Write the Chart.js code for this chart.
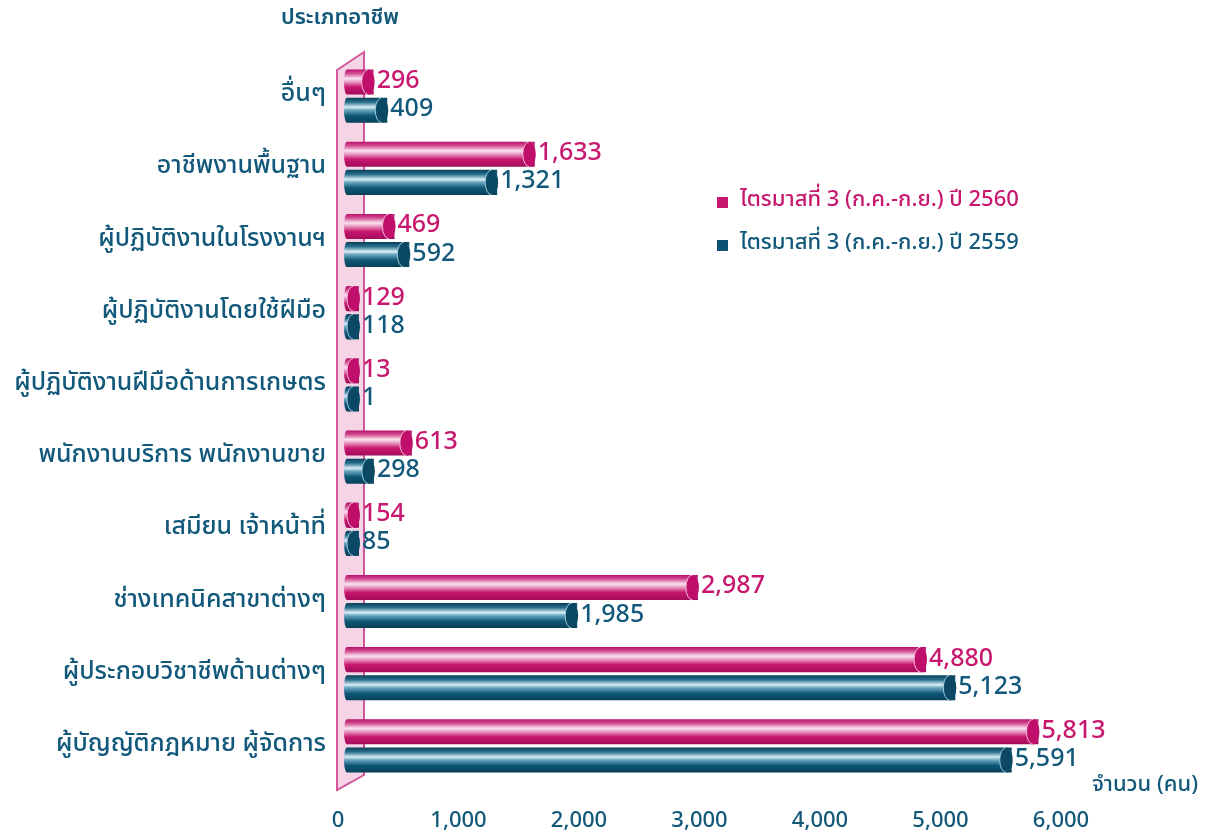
<!DOCTYPE html>
<html><head><meta charset="utf-8">
<script src="https://cdn.jsdelivr.net/npm/chart.js@4.4.1/dist/chart.umd.min.js"></script>
<style>html,body{margin:0;padding:0;background:#fff;}#wrap{width:1210px;height:839px;position:relative;}</style>
</head><body><div id="wrap"><canvas id="c" width="1210" height="839"></canvas></div>
<script>
const categories = [
  'อื่นๆ',
  'อาชีพงานพื้นฐาน',
  'ผู้ปฏิบัติงานในโรงงานฯ',
  'ผู้ปฏิบัติงานโดยใช้ฝีมือ',
  'ผู้ปฏิบัติงานฝีมือด้านการเกษตร',
  'พนักงานบริการ พนักงานขาย',
  'เสมียน เจ้าหน้าที่',
  'ช่างเทคนิคสาขาต่างๆ',
  'ผู้ประกอบวิชาชีพด้านต่างๆ',
  'ผู้บัญญัติกฎหมาย ผู้จัดการ'
];
const series2560 = [296, 1633, 469, 129, 13, 613, 154, 2987, 4880, 5813];
const series2559 = [409, 1321, 592, 118, 1, 298, 85, 1985, 5123, 5591];
const seriesLabels = ['ไตรมาสที่ 3 (ก.ค.-ก.ย.) ปี 2560', 'ไตรมาสที่ 3 (ก.ค.-ก.ย.) ปี 2559'];
const xTicks = [0, 1000, 2000, 3000, 4000, 5000, 6000];
const yAxisTitle = 'ประเภทอาชีพ';
const xAxisTitle = 'จำนวน (คน)';

const FONT = '"Noto Sans Thai", "Noto Sans Thai UI", Loma, Garuda, "Tlwg Typo", Kinnari, "DejaVu Sans", sans-serif';
const TEAL = '#11587a';
const PINK = '#c8176f';
const styles = [
  {stops: [[0,'#b8106a'],[0.16,'#d24d92'],[0.36,'#fbe4ef'],[0.48,'#eaa2c6'],[0.7,'#c8176f'],[1,'#a20c5b']], cap: '#bf0f6b', rim: '#f5b9d6', text: PINK},
  {stops: [[0,'#073f58'],[0.18,'#2a6f8d'],[0.38,'#d9eef5'],[0.5,'#6aa5be'],[0.72,'#0f5877'],[1,'#083f58']], cap: '#0a4864', rim: '#9ccbdc', text: TEAL}
];
const BAR_INSET = 9;

function makeGrad(ctx, di, top, h) {
  const g = ctx.createLinearGradient(0, top, 0, top + h);
  styles[di].stops.forEach(s => g.addColorStop(s[0], s[1]));
  return g;
}

const cylinderPlugin = {
  id: 'cyl',
  beforeDatasetsDraw(chart) {
    const ctx = chart.ctx;
    const xs = chart.scales.x, ca = chart.chartArea;
    const x0 = xs.getPixelForValue(0) - 1;
    const w = 27;
    ctx.save();
    ctx.beginPath();
    ctx.moveTo(x0, ca.top + 10);
    ctx.lineTo(x0 + w, ca.top - 8);
    ctx.lineTo(x0 + w, ca.bottom - 7);
    ctx.lineTo(x0, ca.bottom + 8);
    ctx.closePath();
    ctx.fillStyle = '#f5d5e5';
    ctx.fill();
    ctx.strokeStyle = '#d2579a';
    ctx.lineWidth = 2;
    ctx.stroke();
    ctx.restore();
    chart.data.datasets.forEach((ds, di) => {
      const meta = chart.getDatasetMeta(di);
      meta.data.forEach(el => {
        el.options.backgroundColor = makeGrad(ctx, di, el.y - el.height / 2, el.height);
      });
    });
  },
  beforeDatasetDraw(chart) {
    const ctx = chart.ctx;
    const x0 = chart.scales.x.getPixelForValue(0) + BAR_INSET;
    ctx.save();
    ctx.beginPath();
    ctx.rect(x0, 0, chart.width - x0, chart.height);
    ctx.clip();
  },
  afterDatasetDraw(chart) {
    chart.ctx.restore();
  },
  afterDatasetsDraw(chart) {
    const ctx = chart.ctx;
    chart.data.datasets.forEach((ds, di) => {
      const meta = chart.getDatasetMeta(di);
      meta.data.forEach((el, i) => {
        const h = el.height;
        const top = el.y - h / 2;
        const start = el.base + BAR_INSET;
        const minEnd = el.base + 21;
        const end = Math.max(el.x, minEnd);
        ctx.save();
        const g = makeGrad(ctx, di, top, h);
        ctx.fillStyle = g;
        if (el.x < minEnd) ctx.fillRect(start, top, end - start, h);
        // left rounded end
        ctx.beginPath();
        ctx.ellipse(start, el.y, 3, h / 2, 0, Math.PI * 0.5, Math.PI * 1.5);
        ctx.fill();
        // right cap
        const rx = 6.5;
        ctx.beginPath();
        ctx.ellipse(end - rx + 1, el.y, rx, h / 2, 0, 0, Math.PI * 2);
        ctx.fillStyle = styles[di].cap;
        ctx.fill();
        ctx.beginPath();
        ctx.ellipse(end - rx + 1, el.y, rx, h / 2, 0, Math.PI * 0.5, Math.PI * 1.5);
        ctx.strokeStyle = styles[di].rim;
        ctx.lineWidth = 1;
        ctx.stroke();
        // value label
        ctx.fillStyle = styles[di].text;
        ctx.font = '500 25px ' + FONT;
        ctx.textAlign = 'left';
        ctx.textBaseline = 'middle';
        ctx.fillText(ds.data[i].toLocaleString('en-US'), end + 3, el.y + 1);
        ctx.restore();
      });
    });
  },
  afterDraw(chart) {
    const ctx = chart.ctx;
    const ca = chart.chartArea;
    ctx.save();
    ctx.fillStyle = TEAL;
    ctx.font = '600 22px ' + FONT;
    ctx.textAlign = 'center';
    ctx.textBaseline = 'middle';
    ctx.fillText(yAxisTitle, ca.left + 2, 20);
    ctx.font = '500 22px ' + FONT;
    ctx.fillText(xAxisTitle, 1145, ca.bottom + 5);
    ctx.textAlign = 'left';
    ctx.font = '500 22px ' + FONT;
    chart.data.datasets.forEach((ds, di) => {
      const y = 202 + di * 43;
      ctx.fillStyle = di === 0 ? PINK : '#0c5275';
      ctx.fillRect(717, y - 5, 11, 11);
      ctx.fillStyle = styles[di].text;
      ctx.fillText(ds.label, 740, y);
    });
    ctx.restore();
  }
};

new Chart(document.getElementById('c'), {
  type: 'bar',
  data: {
    labels: categories,
    datasets: [
      {label: seriesLabels[0], data: series2560, backgroundColor: () => PINK, borderWidth: 0,
       categoryPercentage: 0.78, barPercentage: 0.89},
      {label: seriesLabels[1], data: series2559, backgroundColor: () => TEAL, borderWidth: 0,
       categoryPercentage: 0.78, barPercentage: 0.89}
    ]
  },
  options: {
    indexAxis: 'y',
    responsive: false,
    animation: false,
    layout: {padding: {top: 60, right: 149, bottom: 0, left: 0}},
    plugins: {legend: {display: false}, tooltip: {enabled: false}},
    scales: {
      x: {
        min: 0, max: 6000,
        afterFit(s) { s.height = 57; },
        afterBuildTicks(s) { s.ticks = xTicks.map(v => ({value: v})); },
        grid: {display: false, drawTicks: false},
        border: {display: false},
        ticks: {
          padding: 27,
          color: TEAL,
          font: {family: FONT, size: 22, weight: '500'},
          callback: v => Number(v).toLocaleString('en-US')
        }
      },
      y: {
        afterFit(s) { s.width = 338; },
        grid: {display: false, drawTicks: false},
        border: {display: false},
        ticks: {
          padding: 12,
          color: TEAL,
          font: {family: FONT, size: 25, weight: '500'}
        }
      }
    }
  },
  plugins: [cylinderPlugin]
});
</script>
</body></html>
